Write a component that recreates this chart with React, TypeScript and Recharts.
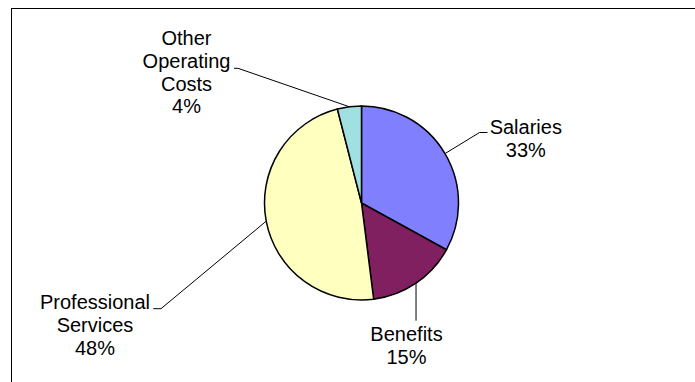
import React from "react";
import { PieChart, Pie, Cell } from "recharts";

const categories = ["Salaries", "Benefits", "Professional Services", "Other Operating Costs"];
const shares = [33, 15, 48, 4];
const labelLines = [["Salaries"], ["Benefits"], ["Professional", "Services"], ["Other", "Operating", "Costs"]];

const colors = ["#8080FF", "#802060", "#FFFFC0", "#A0E0E0"];

// label layout relative to pie centre: elbow point, end of horizontal stub, text centre, first baseline
const labelLayout = [
  { ex: 118, ey: -70.5, hx: 126, tx: 164.3, ty: -69 },
  { ex: null, ey: 117.7, hx: null, tx: 45, ty: 137.7 },
  { ex: -200.5, ey: 105.7, hx: -208.2, tx: -266.5, ty: 106.3 },
  { ex: -123.5, ey: -134.7, hx: -127.5, tx: -175, ty: -158 },
];

const data = categories.map((name, i) => ({ name, value: shares[i] }));
const total = shares.reduce((a, b) => a + b, 0);
const LINE_H = 22.8;
const RAD = Math.PI / 180;

const renderLabel = (props: any) => {
  const { cx, cy, midAngle, outerRadius, index } = props;
  const L = labelLayout[index];
  const sx = cx + outerRadius * Math.cos(-midAngle * RAD);
  const sy = cy + outerRadius * Math.sin(-midAngle * RAD);
  let points: string;
  if (L.ex === null) {
    points = `${sx},${sy} ${sx},${cy + L.ey}`;
  } else {
    points = `${sx},${sy} ${cx + L.ex},${cy + L.ey} ${cx + (L.hx as number)},${cy + L.ey}`;
  }
  const pct = Math.round((shares[index] / total) * 100) + "%";
  const lines = [...labelLines[index], pct];
  return (
    <g key={`lbl-${index}`}>
      <polyline points={points} fill="none" stroke="#000" strokeWidth={1} />
      <text
        x={cx + L.tx}
        y={cy + L.ty}
        textAnchor="middle"
        fontFamily="'Liberation Sans', Arial, sans-serif"
        fontSize={20}
        fill="#000"
      >
        {lines.map((t, k) => (
          <tspan key={k} x={cx + L.tx} y={cy + L.ty + k * LINE_H}>
            {t}
          </tspan>
        ))}
      </text>
    </g>
  );
};

export default function App() {
  return (
    <div
      style={{
        position: "absolute",
        left: 0,
        top: 0,
        width: 695,
        height: 382,
        overflow: "hidden",
        background: "#fff",
      }}
    >
      <div
        style={{
          position: "absolute",
          left: 10.5,
          top: 7.5,
          width: 720,
          height: 420,
          border: "1px solid #000",
          boxSizing: "border-box",
        }}
      />
      <div style={{ position: "absolute", left: 0, top: 0 }}>
        <PieChart width={695} height={382} margin={{ top: 0, right: 0, bottom: 0, left: 0 }}>
          <Pie
            data={data}
            dataKey="value"
            nameKey="name"
            cx={361.5}
            cy={203}
            outerRadius={97}
            startAngle={90}
            endAngle={-270}
            stroke="#000"
            strokeWidth={1.5}
            label={renderLabel}
            labelLine={false}
            isAnimationActive={false}
          >
            {data.map((d, i) => (
              <Cell key={d.name} fill={colors[i]} />
            ))}
          </Pie>
        </PieChart>
      </div>
    </div>
  );
}
